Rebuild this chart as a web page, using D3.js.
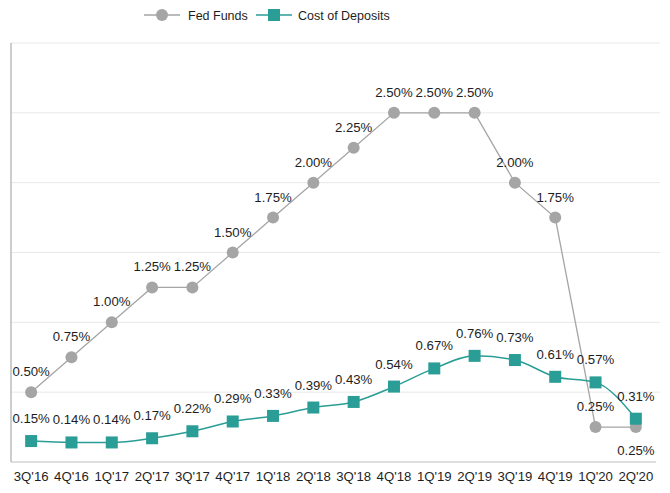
<!DOCTYPE html>
<html><head><meta charset="utf-8">
<script src="https://cdn.jsdelivr.net/npm/d3@7"></script>
<style>body{margin:0;background:#fff}svg{display:block}text{font-family:"Liberation Sans",Arial,sans-serif}</style>
</head><body><svg id="c" width="670" height="493"></svg>
<script>
const categories = ["3Q'16","4Q'16","1Q'17","2Q'17","3Q'17","4Q'17","1Q'18","2Q'18","3Q'18","4Q'18","1Q'19","2Q'19","3Q'19","4Q'19","1Q'20","2Q'20"];
const fedFunds = [0.50,0.75,1.00,1.25,1.25,1.50,1.75,2.00,2.25,2.50,2.50,2.50,2.00,1.75,0.25,0.25];
const costOfDeposits = [0.15,0.14,0.14,0.17,0.22,0.29,0.33,0.39,0.43,0.54,0.67,0.76,0.73,0.61,0.57,0.31];
const yTicks = [0,0.5,1.0,1.5,2.0,2.5,3.0];
const seriesNames = ["Fed Funds","Cost of Deposits"];
const fedLabelBelow = [15];

const svg = d3.select("#c");
const x = d3.scaleBand().domain(categories).range([11,656]);
const y = d3.scaleLinear().domain([0,3]).range([462,43]);
const cx = d => x(d) + x.bandwidth()/2;
const grey = "#a5a5a5", teal = "#2a9d96", ink = "#1e1e1e";
const fs = 13.2;

// gridlines
svg.append("g").selectAll("line").data(yTicks.filter(t=>t>0)).join("line")
  .attr("x1",11).attr("x2",660).attr("y1",d=>y(d)).attr("y2",d=>y(d))
  .attr("stroke","#e8e8e8").attr("stroke-width",1);
// left axis line
svg.append("line").attr("x1",11).attr("x2",11).attr("y1",y(3)).attr("y2",y(0)).attr("stroke","#bdbdbd").attr("stroke-width",1.5);
// x axis
const xa = svg.append("g").attr("transform",`translate(0,${y(0)})`).call(d3.axisBottom(x).tickSize(0).tickPadding(10));
xa.select(".domain").attr("stroke","#bdbdbd").attr("stroke-width",1.2).attr("d",`M11,0H656`);
xa.selectAll("text").attr("font-size",fs).attr("fill",ink).style("font-family",'"Liberation Sans",Arial,sans-serif');

// Fed Funds line
svg.append("path").datum(fedFunds).attr("fill","none").attr("stroke",grey).attr("stroke-width",1.3)
  .attr("d",d3.line().x((d,i)=>cx(categories[i])).y(d=>y(d)));
svg.append("g").selectAll("circle").data(fedFunds).join("circle")
  .attr("cx",(d,i)=>cx(categories[i])).attr("cy",d=>y(d)).attr("r",6).attr("fill",grey);

// Cost of deposits line
svg.append("path").datum(costOfDeposits).attr("fill","none").attr("stroke",teal).attr("stroke-width",1.5)
  .attr("d",d3.line().curve(d3.curveMonotoneX).x((d,i)=>cx(categories[i])).y(d=>y(d)));
svg.append("g").selectAll("rect").data(costOfDeposits).join("rect")
  .attr("x",(d,i)=>cx(categories[i])-6).attr("y",d=>y(d)-6).attr("width",12).attr("height",12).attr("fill",teal);

// labels
const fmt = d => d.toFixed(2)+"%";
svg.append("g").selectAll("text").data(fedFunds).join("text")
  .attr("x",(d,i)=>cx(categories[i])).attr("y",(d,i)=>fedLabelBelow.includes(i)? y(d)+28 : y(d)-16)
  .attr("text-anchor","middle").attr("font-size",fs).attr("fill",ink).text(fmt);
svg.append("g").selectAll("text").data(costOfDeposits).join("text")
  .attr("x",(d,i)=>cx(categories[i])).attr("y",d=>y(d)-18)
  .attr("text-anchor","middle").attr("font-size",fs).attr("fill",ink).text(fmt);

// legend
const lg = svg.append("g");
lg.append("line").attr("x1",144).attr("x2",180).attr("y1",15).attr("y2",15).attr("stroke",grey).attr("stroke-width",1.3);
lg.append("circle").attr("cx",162).attr("cy",15).attr("r",6).attr("fill",grey);
lg.append("text").attr("x",188).attr("y",19.5).attr("font-size",12.5).attr("fill",ink).text(seriesNames[0]);
lg.append("line").attr("x1",256).attr("x2",292).attr("y1",15).attr("y2",15).attr("stroke",teal).attr("stroke-width",1.5);
lg.append("rect").attr("x",268).attr("y",9).attr("width",12).attr("height",12).attr("fill",teal);
lg.append("text").attr("x",298).attr("y",19.5).attr("font-size",12.5).attr("fill",ink).text(seriesNames[1]);
</script></body></html>
